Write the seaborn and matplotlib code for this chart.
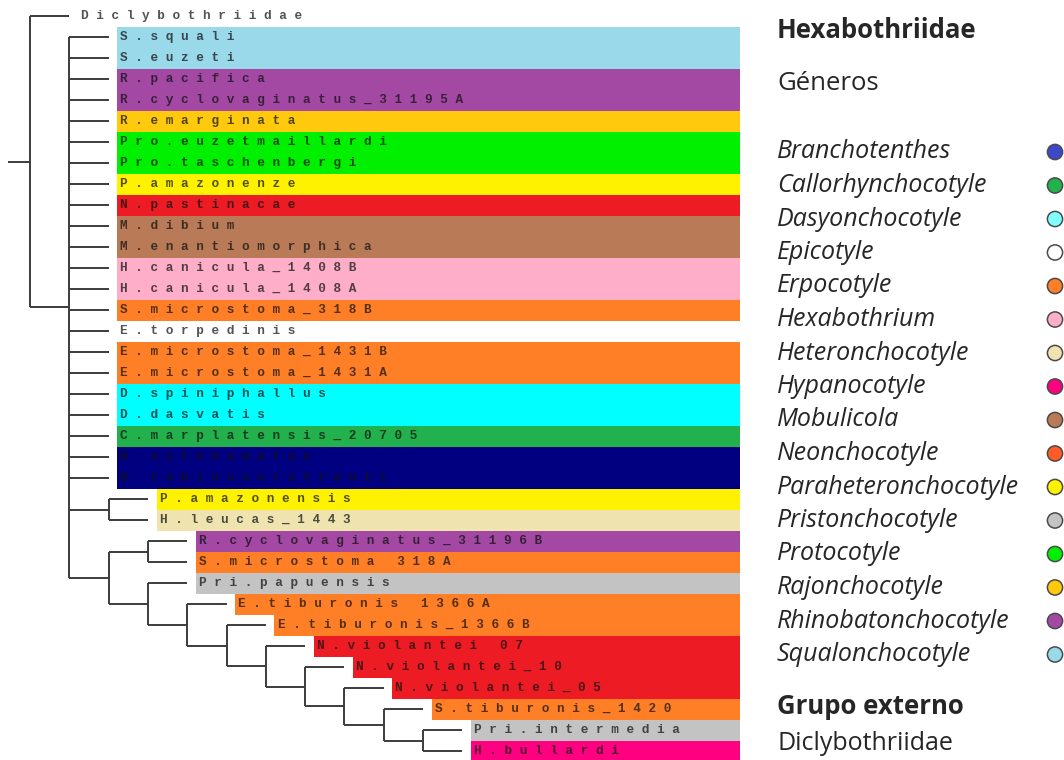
"""Hexabothriidae cladogram with genus colour bands and legend."""

import matplotlib

matplotlib.use("Agg")
import matplotlib.pyplot as plt
import pandas as pd
import seaborn as sns

# Tree topology (nested tuples, Diclybothriidae as outgroup)
ingroup_polytomy = [
    "S.squali",
    "S.euzeti",
    "R.pacifica",
    "R.cyclovaginatus_31195A",
    "R.emarginata",
    "Pro.euzetmaillardi",
    "Pro.taschenbergi",
    "P.amazonenze",
    "N.pastinacae",
    "M.dibium",
    "M.enantiomorphica",
    "H.canicula_1408B",
    "H.canicula_1408A",
    "S.microstoma_318B",
    "E.torpedinis",
    "E.microstoma_1431B",
    "E.microstoma_1431A",
    "D.spiniphallus",
    "D.dasvatis",
    "C.marplatensis_20705",
    "B.octohamatus",
    "B.robinoverstreeti",
]
clade_amazonensis = ("P.amazonensis", "H.leucas_1443")
clade_ladder = (
    ("R.cyclovaginatus_31196B", "S.microstoma 318A"),
    ("Pri.papuensis",
     ("E.tiburonis 1366A",
      ("E.tiburonis_1366B",
       ("N.violantei 07",
        ("N.violantei_10",
         ("N.violantei_05",
          ("S.tiburonis_1420",
           ("Pri.intermedia", "H.bullardi")))))))),
)
tree = ("Diclybothriidae", tuple(ingroup_polytomy) + (clade_amazonensis, clade_ladder))

# Genus (colour group) of each tip
tip_genus = {
    "S.squali": "Squalonchocotyle",
    "S.euzeti": "Squalonchocotyle",
    "R.pacifica": "Rhinobatonchocotyle",
    "R.cyclovaginatus_31195A": "Rhinobatonchocotyle",
    "R.emarginata": "Rajonchocotyle",
    "Pro.euzetmaillardi": "Protocotyle",
    "Pro.taschenbergi": "Protocotyle",
    "P.amazonenze": "Paraheteronchocotyle",
    "N.pastinacae": "Neonchocotyle",
    "M.dibium": "Mobulicola",
    "M.enantiomorphica": "Mobulicola",
    "H.canicula_1408B": "Hexabothrium",
    "H.canicula_1408A": "Hexabothrium",
    "S.microstoma_318B": "Erpocotyle",
    "E.torpedinis": "Epicotyle",
    "E.microstoma_1431B": "Erpocotyle",
    "E.microstoma_1431A": "Erpocotyle",
    "D.spiniphallus": "Dasyonchocotyle",
    "D.dasvatis": "Dasyonchocotyle",
    "C.marplatensis_20705": "Callorhynchocotyle",
    "B.octohamatus": "Branchotenthes",
    "B.robinoverstreeti": "Branchotenthes",
    "P.amazonensis": "Paraheteronchocotyle",
    "H.leucas_1443": "Heteronchocotyle",
    "R.cyclovaginatus_31196B": "Rhinobatonchocotyle",
    "S.microstoma 318A": "Erpocotyle",
    "Pri.papuensis": "Pristonchocotyle",
    "E.tiburonis 1366A": "Erpocotyle",
    "E.tiburonis_1366B": "Erpocotyle",
    "N.violantei 07": "Neonchocotyle",
    "N.violantei_10": "Neonchocotyle",
    "N.violantei_05": "Neonchocotyle",
    "S.tiburonis_1420": "Erpocotyle",
    "Pri.intermedia": "Pristonchocotyle",
    "H.bullardi": "Hypanocotyle",
}

# Legend genera, band colours and legend dot colours
genera = [
    "Branchotenthes", "Callorhynchocotyle", "Dasyonchocotyle", "Epicotyle",
    "Erpocotyle", "Hexabothrium", "Heteronchocotyle", "Hypanocotyle",
    "Mobulicola", "Neonchocotyle", "Paraheteronchocotyle", "Pristonchocotyle",
    "Protocotyle", "Rajonchocotyle", "Rhinobatonchocotyle", "Squalonchocotyle",
]
band_colors = [
    "#000080", "#22B14C", "#00FFFF", "#FFFFFF",
    "#FF7F27", "#FFAEC9", "#EFE4B0", "#FF0080",
    "#B97A57", "#ED1C24", "#FFF200", "#C3C3C3",
    "#00F000", "#FFC90E", "#A349A4", "#99D9EA",
]
dot_colors = [
    "#3F48CC", "#22B14C", "#80FFFF", "#FFFFFF",
    "#FF7F27", "#FFAEC9", "#EFE4B0", "#FF0080",
    "#B97A57", "#FF5A28", "#FFF200", "#C3C3C3",
    "#00F000", "#FFC90E", "#A349A4", "#99D9EA",
]
band_palette = dict(zip(genera, band_colors))
dot_palette = dict(zip(genera, dot_colors))

# Lay out the cladogram: x = node depth, y = tip row
segments = []  # (x0, x1, y0, y1)
tips = []  # (name, depth, row)


def layout(node, depth):
    if isinstance(node, str):
        row = len(tips)
        tips.append((node, depth, row))
        return row
    child_rows = []
    for child in node:
        r = layout(child, depth + 1)
        child_rows.append(r)
        segments.append((depth, depth + 1, r, r))
    segments.append((depth, depth, child_rows[0], child_rows[-1]))
    return (child_rows[0] + child_rows[-1]) / 2


root_row = layout(tree, 0)
segments.append((-0.56, 0, root_row, root_row))

tip_df = pd.DataFrame(tips, columns=["name", "depth", "row"])
tip_df["genus"] = tip_df["name"].map(tip_genus)

sns.set_style("white")
fig = plt.figure(figsize=(10.64, 7.6), dpi=100)
ax = fig.add_axes([0, 0, 1, 1])
ax.set_xlim(-30 / 39.3, (1064 - 30) / 39.3)
ax.set_ylim(744 / 21, -16 / 21)
ax.axis("off")

band_end = (740 - 30) / 39.3
banded = tip_df.dropna(subset=["genus"])
ax.barh(
    banded["row"],
    band_end - (banded["depth"] + 0.22),
    left=banded["depth"] + 0.22,
    height=1.0,
    color=banded["genus"].map(band_palette),
    linewidth=0,
    zorder=1,
)

for x0, x1, y0, y1 in segments:
    ax.plot([x0, x1], [y0, y1], color="#3c3c3c", lw=1.4, solid_capstyle="butt", zorder=2)

for _, t in tip_df.iterrows():
    ax.text(
        t["depth"] + 0.3,
        t["row"],
        " ".join(t["name"]),
        family="Liberation Mono",
        fontsize=9.2,
        weight="bold",
        color="#111111",
        alpha=0.72,
        va="center",
        ha="left",
        zorder=3,
    )

# Legend panel in pixel coordinates
lax = fig.add_axes([0, 0, 1, 1])
lax.patch.set_alpha(0)

legend_font = "Open Sans"
leg_df = pd.DataFrame({"genus": genera, "y": [152 + 33.5 * i for i in range(len(genera))]})

sns.scatterplot(
    data=leg_df.assign(x=1055),
    x="x",
    y="y",
    hue="genus",
    palette=dot_palette,
    s=120,
    edgecolor="#4a4a4a",
    linewidth=1.1,
    legend=False,
    ax=lax,
    zorder=3,
    clip_on=False,
)
lax.set_xlim(0, 1064)
lax.set_ylim(760, 0)
lax.axis("off")

lax.text(777, 30, "Hexabothriidae", family=legend_font, fontsize=18.5, weight="bold", va="center")
lax.text(777, 84, "Géneros", family=legend_font, fontsize=18.5, va="center")
for _, g in leg_df.iterrows():
    lax.text(777, g["y"], g["genus"], family=legend_font, fontsize=18, style="italic", va="center")
lax.text(777, 707, "Grupo externo", family=legend_font, fontsize=18.5, weight="bold", va="center")
lax.text(777, 743, "Diclybothriidae", family=legend_font, fontsize=18, va="center")

fig.savefig("out.png", dpi=100)
